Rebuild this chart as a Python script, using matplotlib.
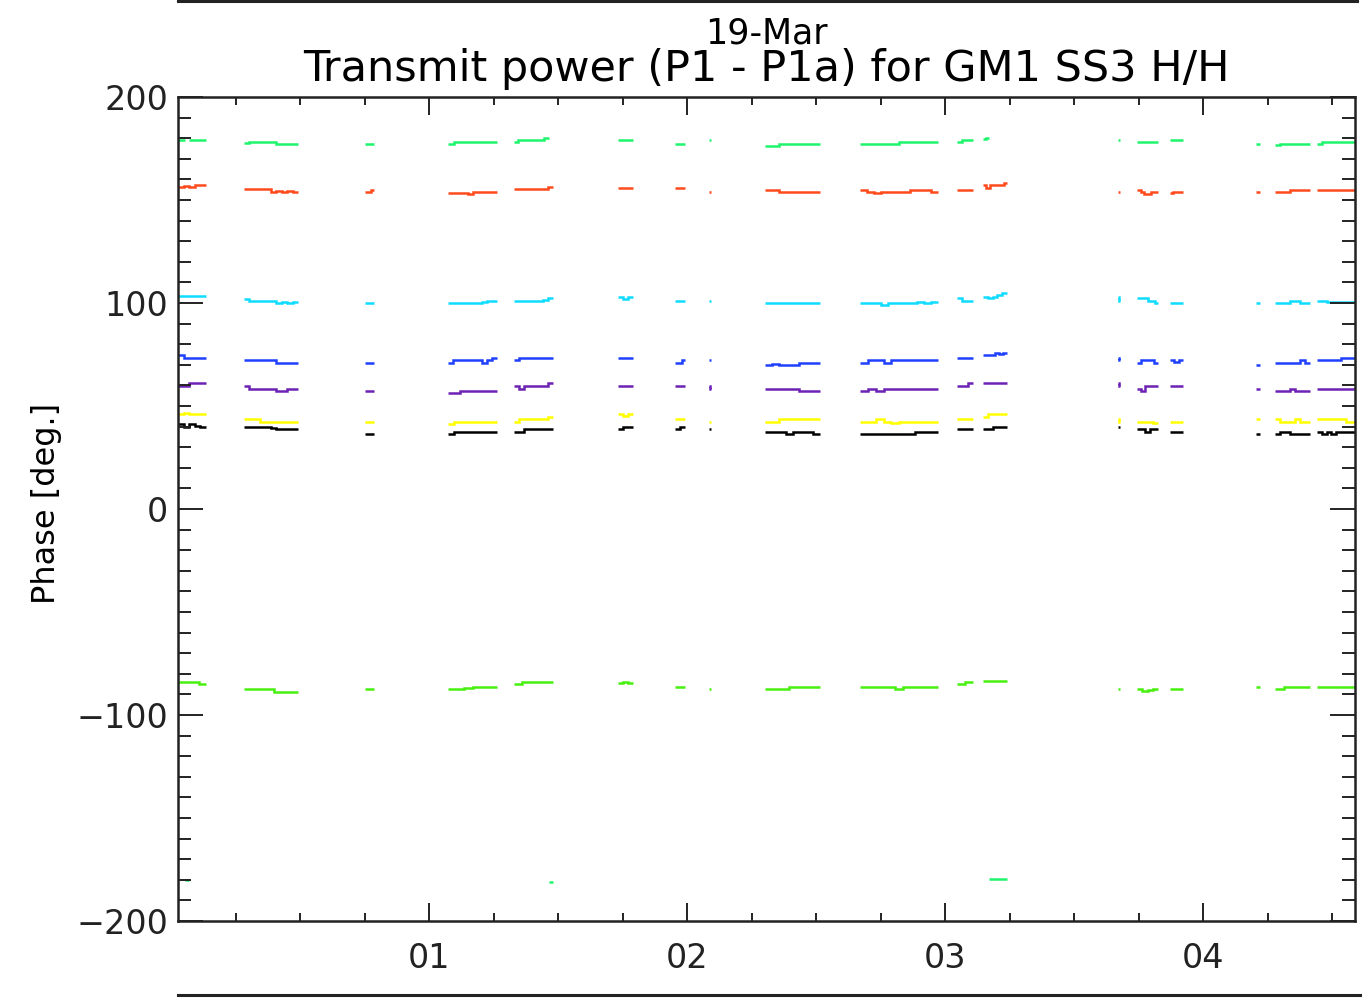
import numpy as np
import matplotlib
matplotlib.use("Agg")
import matplotlib.pyplot as plt
from matplotlib.lines import Line2D
from matplotlib.ticker import MultipleLocator, FixedLocator

# ---- data -------------------------------------------------------------
title_date = "19-Mar"
title_main = "Transmit power (P1 - P1a) for GM1 SS3 H/H"
y_label = "Phase [deg.]"
x_tick_hours = [1, 2, 3, 4]
x_tick_labels = ["01", "02", "03", "04"]
x_limits = (0.027, 4.589)
y_limits = (-200, 200)

# observation segments (hours)
seg_start = [0.027, 0.283, 0.752, 1.074, 1.329, 1.733, 1.953, 2.085, 2.302,
             2.671, 3.047, 3.147, 3.671, 3.744, 3.872, 4.205, 4.279, 4.442]
seg_end = [0.136, 0.492, 0.787, 1.264, 1.481, 1.791, 1.992, 2.093, 2.516,
           2.973, 3.109, 3.240, 3.678, 3.826, 3.922, 4.221, 4.415, 4.589]

green_top = [
    [179, 179, -180, 179, 179, 179, 179, 179],
    [177.5, 178, 178, 178, 178, 178, 177, 177, 177, 177],
    [177, 177, 177],
    [177, 178, 178, 178, 178, 178, 178, 178],
    [178, 179, 179, 179, 179, 179, 179, 180, -181],
    [179, 179, 179],
    [177, 177],
    [179],
    [176, 176, 177, 177, 177, 177, 177, 177],
    [177, 177, 177, 177, 177, 178, 178, 178, 178, 178],
    [178, 179, 179],
    [179.5, 180, -179.6, -179.6, -179.6, -179.6, -179.6, -179.6],
    [179],
    [178, 178, 178, 178],
    [179, 179, 179],
    [177],
    [176.5, 177, 177, 177, 177, 177, 177],
    [177, 178, 178, 178, 178, 178, 178, 178],
]
red = [
    [156.5, 157, 156.5, 157.3, 157.3],
    [155.2, 155.2, 155.2, 155.2, 155.2, 154, 154.5, 154, 154.5, 154],
    [154, 154, 155],
    [153.2, 153.5, 153.2, 153.2, 152.8, 154, 154, 154, 154, 154],
    [155.2, 155.2, 155.2, 155.2, 155.2, 155.2, 155.5, 156.2],
    [156, 156, 156],
    [156, 156],
    [154],
    [155, 155, 154, 154, 154, 154, 154, 154],
    [155, 154, 153.5, 154, 154, 154, 154, 155, 155, 155, 154],
    [155, 155, 155],
    [157.3, 156, 157.3, 157.3, 157.3, 157.3, 158.4],
    [154],
    [155, 154, 153, 153, 154, 154],
    [153.5, 154, 154, 154],
    [154],
    [154, 154, 154, 155, 155, 155, 155],
    [155, 155, 155, 155, 155, 155, 155],
]
cyan = [
    [103.4, 103.4, 103.4, 103.4],
    [102, 101.1, 101.1, 101.1, 101.1, 101.1, 99.8, 100.5, 99.8, 100.5],
    [99.8, 99.8],
    [99.8, 99.8, 99.8, 99.8, 99.8, 99.8, 99.8, 100.5, 101.1, 101.1],
    [101.1, 101.1, 101.1, 101.1, 101.1, 101.1, 101.5, 102.3],
    [103, 102, 103],
    [101, 101],
    [101],
    [99.8, 99.8, 99.8, 99.8, 99.8, 99.8, 99.8, 99.8],
    [99.8, 99.8, 99.8, 99.2, 99.8, 99.8, 99.8, 99.8, 100.5, 99.8, 100.5],
    [102.3, 101.1, 101.1],
    [103, 102.2, 103, 104, 104.7],
    [103, 101],
    [102.3, 102.3, 102.3, 101.1, 101.1, 99.8],
    [99.8, 99.8, 99.8],
    [99.8],
    [99.8, 99.8, 99.8, 101.1, 101.1, 99.8, 99.8],
    [101.1, 101.1, 100.5, 100.5, 100.5, 100.5, 100.5, 100.5],
]
blue = [
    [74.8, 73.5, 73.5, 73.5, 73.5],
    [72.3, 72.3, 72.3, 72.3, 72.3, 72.3, 71, 71, 71, 71],
    [71, 71],
    [71, 72.3, 72.3, 72.3, 72.3, 72.3, 72.3, 71, 72.3, 73.5],
    [72.3, 73.5, 73.5, 73.5, 73.5, 73.5, 73.5, 73.5],
    [73.5, 73.5, 73.5],
    [71, 71, 72.3],
    [72.3],
    [69.9, 70.5, 69.9, 69.9, 69.9, 71, 71, 71],
    [71, 72.3, 72.3, 71, 72.3, 72.3, 72.3, 72.3, 72.3, 72.3],
    [73.5, 73.5, 73.5],
    [74.8, 74.8, 74.8, 75.9, 75.2, 75.9],
    [73.5, 72.3],
    [71, 72.3, 72.3, 72.3, 71],
    [72.3, 71.5, 72.3],
    [70],
    [71, 71, 71, 71, 71, 72.3, 71],
    [72.3, 72.3, 72.3, 72.3, 72.3, 73.5, 73.5, 73.5],
]
purple = [
    [59.7, 59.7, 61, 61, 61],
    [59.7, 58.4, 58.4, 58.4, 58.4, 58.4, 57.3, 57.3, 58.4, 58.4],
    [57.3, 57.3],
    [56.1, 56.1, 57.3, 57.3, 57.3, 57.3, 57.3, 57.3],
    [59.7, 58.4, 59.7, 59.7, 59.7, 59.7, 59.7, 61],
    [59.7, 59.7, 59.7],
    [59.7, 59.7],
    [59.7, 58.4],
    [58.4, 58.4, 58.4, 58.4, 58.4, 57.3, 57.3, 57.3],
    [57.3, 58.4, 57.3, 58.4, 58.4, 58.4, 58.4, 58.4, 58.4, 58.4],
    [59.7, 59.7, 61],
    [61, 61, 61, 61, 61],
    [61, 59.7],
    [58.4, 57.5, 59.7, 59.7, 59.7],
    [59.7, 59.7, 59.7],
    [58.4],
    [57.3, 57.3, 57.3, 58.4, 57.3, 57.3, 57.3],
    [58.4, 58.4, 58.4, 58.4, 58.4, 58.4, 58.4, 58.4],
]
yellow = [
    [46, 46.5, 46, 46, 46],
    [43.5, 43.5, 43.5, 42.4, 42.4, 42.4, 42.4, 42.4, 42.4, 42.4],
    [42.4, 42.4],
    [41.3, 42.4, 42.4, 42.4, 42.4, 42.4, 42.4, 42.4],
    [42.4, 43.5, 43.5, 43.5, 43.5, 43.5, 43.5, 44.8],
    [46, 45, 46],
    [43.5, 43.5],
    [42.4],
    [42.4, 42.4, 43.5, 43.5, 43.5, 43.5, 43.5, 43.5],
    [42.4, 42.4, 43.5, 42.4, 41.8, 42.4, 42.4, 42.4, 42.4, 42.4],
    [43.5, 43.5, 43.5],
    [44.8, 46, 46, 46, 46],
    [43.5, 42.4],
    [42.4, 42.4, 42.4, 41.8],
    [42.4, 42.4, 42.4],
    [43.5],
    [43.5, 42.4, 42.4, 42.4, 43.5, 42.4, 42.4],
    [43.5, 43.5, 43.5, 43.5, 43.5, 43.5, 42.4, 42.4],
]
black = [
    [41.1, 40, 41.1, 40.5, 40],
    [40, 40, 40, 40, 40, 39.5, 38.8, 38.8, 38.8, 38.8],
    [36.4, 36.4],
    [36.4, 37.5, 37.5, 37.5, 37.5, 37.5, 37.5, 37.5],
    [37.5, 37.5, 38.8, 38.8, 38.8, 38.8, 38.8, 38.8],
    [38.8, 40, 40],
    [38.8, 40],
    [38.8],
    [37.5, 37.5, 37.5, 36.4, 37.5, 37.5, 37.5, 36.4],
    [36.4, 36.4, 36.4, 36.4, 36.4, 36.4, 36.4, 37.5, 37.5, 37.5],
    [38.8, 38.8, 38.8],
    [38.8, 38.8, 40, 40, 40],
    [40],
    [38.8, 38.8, 37.5, 38.8, 38.8],
    [37.5, 37.5, 37.5],
    [36.4],
    [36.4, 37.5, 37.5, 36.4, 36.4, 36.4, 36.4],
    [37.5, 36.4, 37.5, 36.4, 37.5, 37.5, 37.5, 37.5],
]
lime = [
    [-84.1, -84.1, -84.1, -85],
    [-87.5, -87.5, -87.5, -87.5, -87.5, -88.7, -88.7, -88.7, -88.7],
    [-87.5, -87.5],
    [-87.5, -87.5, -87, -86.5, -86.5, -86.5],
    [-85, -83.8, -83.8, -83.8, -83.8],
    [-84.7, -84, -84.7],
    [-86.6, -86.6],
    [-87.5],
    [-87.5, -87.5, -87.5, -86.6, -86.6, -86.6, -86.6],
    [-86.6, -86.6, -86.6, -86.6, -87.2, -86.6, -86.6, -86.6, -86.6],
    [-85, -84.1],
    [-83.3, -83.3, -83.3],
    [-87.5],
    [-87.5, -88.5, -88, -87.5],
    [-87.5, -87.5],
    [-86.5],
    [-87.5, -86.6, -86.6, -86.6],
    [-86.6, -86.6, -86.6, -86.6, -86.6],
]

series = [
    (green_top, "#1ef56c"),
    (red, "#ff4a1c"),
    (cyan, "#10dcff"),
    (blue, "#2040ff"),
    (purple, "#6c22b4"),
    (yellow, "#ffff00"),
    (black, "#000000"),
    (lime, "#48f010"),
]

# ---- figure -------------------------------------------------------------
plt.rcParams["font.family"] = ["DejaVu Sans"]
fig = plt.figure(figsize=(13.66, 10.0), dpi=100)
ax = fig.add_axes([178 / 1366, 1 - 921 / 1000, (1355 - 178) / 1366, (921 - 97) / 1000])

for data, col in series:
    for s, e, vals in zip(seg_start, seg_end, data):
        vals = np.asarray(vals, dtype=float)
        edges = np.linspace(s, e, len(vals) + 1)
        # split at phase wraps so that no line joins +180 and -180
        breaks = np.where(np.abs(np.diff(vals)) > 180)[0] + 1
        idx = np.split(np.arange(len(vals)), breaks)
        for run in idx:
            ax.stairs(vals[run], edges[run[0]:run[-1] + 2], baseline=None,
                      color=col, linewidth=1.8)

ax.set_xlim(*x_limits)
ax.set_ylim(*y_limits)

ax.xaxis.set_major_locator(FixedLocator(x_tick_hours))
ax.set_xticklabels(x_tick_labels)
ax.xaxis.set_minor_locator(MultipleLocator(0.25))
ax.yaxis.set_major_locator(MultipleLocator(100))
ax.yaxis.set_minor_locator(MultipleLocator(10))

ax.tick_params(axis="both", which="both", direction="in", top=True, right=True,
               width=1.4, colors="#222222", labelsize=24)
ax.tick_params(axis="x", which="major", length=13, pad=15)
ax.tick_params(axis="x", which="minor", length=5.5)
ax.tick_params(axis="y", which="major", length=18, pad=7)
ax.tick_params(axis="y", which="minor", length=9.5)
for sp in ax.spines.values():
    sp.set_linewidth(1.8)
    sp.set_color("#222222")

fig.canvas.draw()
ylabels = ax.get_yticklabels()
ylabels[0].set_verticalalignment("bottom")
ylabels[-1].set_verticalalignment("top")

ax.set_ylabel(y_label, fontsize=23)
ax.yaxis.set_label_coords((62 - 178) / 1177, 0.507)

cx = (178 + 1355) / 2 / 1366
fig.text(cx, 1 - 34 / 1000, title_date, ha="center", va="center", fontsize=25)
fig.text(cx, 1 - 69 / 1000, title_main, ha="center", va="center", fontsize=31)

# frame lines of the page above and below the panel
fig.add_artist(Line2D([178 / 1366, 1357 / 1366], [1 - 1 / 1000, 1 - 1 / 1000],
                      color="#222222", linewidth=2.2))
fig.add_artist(Line2D([178 / 1366, 1360 / 1366], [1 - 995 / 1000, 1 - 995 / 1000],
                      color="#222222", linewidth=2.2))

fig.savefig("out.png", dpi=100)
